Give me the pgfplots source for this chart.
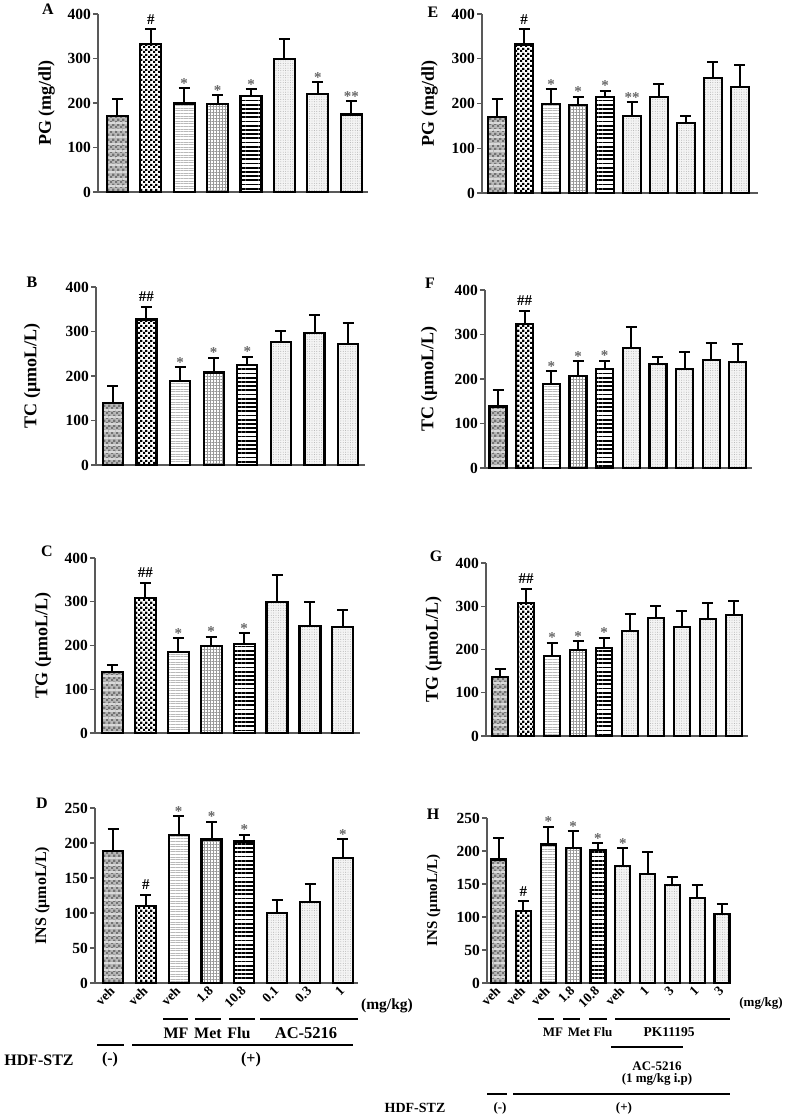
\documentclass[border=0pt]{standalone}
\usepackage{pgfplots}
\pgfplotsset{compat=1.18}
\usepackage{fontspec}
\setmainfont{Liberation Serif}
\usetikzlibrary{patterns,patterns.meta}
\pgfdeclarepatternformonly{finecheck}{\pgfpointorigin}{\pgfqpoint{4.6pt}{4.6pt}}{\pgfqpoint{4.6pt}{4.6pt}}{%
  \pgfpathrectangle{\pgfpointorigin}{\pgfqpoint{2.3pt}{2.3pt}}%
  \pgfpathrectangle{\pgfqpoint{2.3pt}{2.3pt}}{\pgfqpoint{2.3pt}{2.3pt}}%
  \pgfusepath{fill}}
\newcommand{\fs}[1]{\fontsize{#1}{#1}\selectfont\bfseries}
\tikzset{
 s1/.style={fill=gray!55, postaction={pattern=finecheck, pattern color=black!55},
   postaction={pattern={Lines[angle=0,distance=7pt,line width=1.4pt]}, pattern color=gray!30}},
 s2/.style={fill=white, postaction={pattern=finecheck, pattern color=black}},
 s3/.style={fill=white, postaction={pattern={Lines[angle=0,distance=2.6pt,line width=0.8pt]}, pattern color=gray!55}},
 s4/.style={fill=white, postaction={pattern={Hatch[angle=0,distance=3pt,line width=0.6pt]}, pattern color=gray!80}},
 s5/.style={fill=white, postaction={pattern={Lines[angle=0,distance=4.2pt,line width=1.8pt]}, pattern color=black}},
 s6/.style={fill=gray!9, postaction={pattern={Dots[distance=2.4pt,radius=0.45pt]}, pattern color=gray!70}},
}
\newcommand{\B}[4]{\addplot[ybar, bar shift=0pt, draw=black, line width=2.2pt, #4, forget plot,
  error bars/.cd, y dir=plus, y explicit, error bar style={line width=2pt,black},
  error mark options={rotate=90, mark size=5.5pt, line width=2pt, black}]
  coordinates {(#1,#2) +- (0,#3)};}
\newcommand{\Hash}[1]{\addplot[draw=none, mark=none, forget plot, point meta=explicit symbolic, nodes near coords,
  every node near coord/.append style={anchor=base, yshift=5pt, inner sep=0pt, font=\fs{15}, text=black}] coordinates {#1};}
\newcommand{\Star}[1]{\addplot[draw=none, mark=none, forget plot, point meta=explicit symbolic, nodes near coords,
  every node near coord/.append style={anchor=base, yshift=0pt, inner sep=0pt, font=\fs{15}, text=black!60}] coordinates {#1};}
\pgfplotsset{
 myax/.style={scale only axis, anchor=south west, axis x line*=bottom, axis y line*=left, clip=false,
   ymin=0, axis line style={line width=1.3pt, black!65}, ytick style={line width=1.3pt, black!65},
   tick align=outside, major tick length=5pt, xtick=\empty,
   /pgf/number format/assume math mode=true,
   yticklabel style={font=\fs{15.5}, inner sep=2pt},
   ylabel style={font=\fs{18}, anchor=center}},
 four/.style={ymax=400, ytick={0,100,200,300,400}},
 two/.style={ymax=250, ytick={0,50,100,150,200,250}},
}
\begin{document}
\begin{tikzpicture}
\useasboundingbox (0,0) rectangle (787pt,1117pt);
% ---------------- A
\begin{axis}[myax, four, at={(98pt,925pt)}, width=270pt, height=178pt, xmin=0.42, xmax=8.5, bar width=21pt,
  ylabel={PG (mg/dl)}, ylabel style={at={(axis description cs:-0.19,0.5)}}]
\B{1}{171}{39}{s1}\B{2}{332}{34}{s2}\B{3}{199}{34}{s3}\B{4}{197}{20}{s4}
\B{5}{216}{15}{s5}\B{6}{298}{46}{s6}\B{7}{220}{27}{s6}\B{8}{174}{30}{s6}
\Hash{(2,366) [\#]}
\Star{(3,233) [*] (4,217) [*] (5,231) [*] (7,247) [*] (8,204) [**]}
\end{axis}
% ---------------- B
\begin{axis}[myax, four, at={(96pt,652pt)}, width=269pt, height=178pt, xmin=0.5, xmax=8.5, bar width=20pt,
  ylabel={TC (μmoL/L)}, ylabel style={at={(axis description cs:-0.238,0.5)}}]
\B{1}{140}{38}{s1}\B{2}{327}{29}{s2}\B{3}{189}{31}{s3}\B{4}{208}{33}{s4}
\B{5}{225}{18}{s5}\B{6}{276}{25}{s6}\B{7}{296}{40}{s6}\B{8}{272}{46}{s6}
\Hash{(2,356) [\#\#]}
\Star{(3,220) [*] (4,241) [*] (5,243) [*]}
\end{axis}
% ---------------- C
\begin{axis}[myax, four, at={(95pt,384pt)}, width=265pt, height=175pt, xmin=0.47, xmax=8.52, bar width=21pt,
  ylabel={TG (μmoL/L)}, ylabel style={at={(axis description cs:-0.196,0.5)}}]
\B{1}{139}{16}{s1}\B{2}{309}{34}{s2}\B{3}{185}{31}{s3}\B{4}{199}{21}{s4}
\B{5}{204}{24}{s5}\B{6}{299}{61}{s6}\B{7}{245}{55}{s6}\B{8}{243}{38}{s6}
\Hash{(2,343) [\#\#]}
\Star{(3,216) [*] (4,220) [*] (5,228) [*]}
\end{axis}
% ---------------- D
\begin{axis}[myax, two, at={(95pt,134pt)}, width=263pt, height=175pt, xmin=0.45, xmax=8.46, bar width=20pt,
  ylabel={INS (μmoL/L)}, ylabel style={at={(axis description cs:-0.2,0.5)}, font=\fs{16}},
  xtick={1,...,8}, xticklabels={veh,veh,veh,1.8,10.8,0.1,0.3,1}, xtick style={draw=none},
  xticklabel style={rotate=45, anchor=east, font=\fs{13.5}, inner sep=1pt}]
\B{1}{189}{31}{s1}\B{2}{110}{16}{s2}\B{3}{211}{27}{s3}\B{4}{205}{25}{s4}
\B{5}{202}{10}{s5}\B{6}{100}{18}{s6}\B{7}{116}{26}{s6}\B{8}{179}{26}{s6}
\Hash{(2,126) [\#]}
\Star{(3,238) [*] (4,230) [*] (5,212) [*] (8,205) [*]}
\end{axis}
% ---------------- E
\begin{axis}[myax, four, at={(482pt,924pt)}, width=276pt, height=179pt, xmin=0.44, xmax=10.67, bar width=18pt,
  ylabel={PG (mg/dl)}, ylabel style={at={(axis description cs:-0.19,0.5)}}]
\B{1}{169}{40}{s1}\B{2}{332}{34}{s2}\B{3}{198}{34}{s3}\B{4}{196}{19}{s4}\B{5}{214}{15}{s5}
\B{6}{172}{31}{s6}\B{7}{215}{29}{s6}\B{8}{156}{15}{s6}\B{9}{257}{35}{s6}\B{10}{237}{48}{s6}
\Hash{(2,366) [\#]}
\Star{(3,232) [*] (4,215) [*] (5,229) [*] (6,203) [**]}
\end{axis}
% ---------------- F
\begin{axis}[myax, four, at={(485pt,649pt)}, width=267pt, height=178pt, xmin=0.51, xmax=10.53, bar width=17pt,
  ylabel={TC (μmoL/L)}, ylabel style={at={(axis description cs:-0.21,0.5)}}]
\B{1}{138}{37}{s1}\B{2}{324}{29}{s2}\B{3}{188}{29}{s3}\B{4}{207}{33}{s4}\B{5}{223}{18}{s5}
\B{6}{270}{47}{s6}\B{7}{233}{17}{s6}\B{8}{222}{39}{s6}\B{9}{243}{38}{s6}\B{10}{239}{39}{s6}
\Hash{(2,353) [\#\#]}
\Star{(3,217) [*] (4,240) [*] (5,241) [*]}
\end{axis}
% ---------------- G
\begin{axis}[myax, four, at={(486pt,381pt)}, width=262pt, height=173pt, xmin=0.46, xmax=10.54, bar width=16pt,
  ylabel={TG (μmoL/L)}, ylabel style={at={(axis description cs:-0.2,0.5)}}]
\B{1}{136}{18}{s1}\B{2}{307}{34}{s2}\B{3}{185}{31}{s3}\B{4}{198}{21}{s4}\B{5}{203}{24}{s5}
\B{6}{242}{40}{s6}\B{7}{272}{29}{s6}\B{8}{252}{36}{s6}\B{9}{270}{37}{s6}\B{10}{279}{33}{s6}
\Hash{(2,341) [\#\#]}
\Star{(3,216) [*] (4,219) [*] (5,227) [*]}
\end{axis}
% ---------------- H
\begin{axis}[myax, two, at={(487pt,134pt)}, width=243pt, height=165pt, xmin=0.53, xmax=10.32, bar width=15pt,
  ylabel={INS (μmoL/L)}, ylabel style={at={(axis description cs:-0.22,0.5)}, font=\fs{15}},
  xtick={1,...,10}, xticklabels={veh,veh,veh,1.8,10.8,veh,1,3,1,3}, xtick style={draw=none},
  xticklabel style={rotate=45, anchor=east, font=\fs{13.5}, inner sep=1pt}]
\B{1}{187}{32}{s1}\B{2}{109}{15}{s2}\B{3}{210}{27}{s3}\B{4}{205}{25}{s4}\B{5}{201}{11}{s5}
\B{6}{177}{27}{s6}\B{7}{165}{34}{s6}\B{8}{148}{13}{s6}\B{9}{129}{19}{s6}\B{10}{105}{15}{s6}
\Hash{(2,124) [\#]}
\Star{(3,237) [*] (4,230) [*] (5,212) [*] (6,204) [*]}
\end{axis}
% ---------------- panel letters
\foreach \t/\x/\y in {A/48/1108, B/32/835, C/47/566, D/42/314, E/433/1105, F/430/834, G/436/561, H/433/303}
  \node[font=\fs{16}] at (\x pt,\y pt) {\t};
% ---------------- D group labels
\begin{scope}[line width=1.2pt]
\node[font=\fs{15.5}] at (387pt,111pt) {(mg/kg)};
\draw (163pt,98pt) -- (188pt,98pt); \draw (195pt,98pt) -- (221pt,98pt);
\draw (229pt,98pt) -- (255pt,98pt); \draw (260pt,98pt) -- (358pt,98pt);
\node[font=\fs{16}] at (176pt,84pt) {MF};
\node[font=\fs{16}] at (208pt,84pt) {Met};
\node[font=\fs{16}] at (239pt,84pt) {Flu};
\node[font=\fs{16.5}] at (306pt,84pt) {AC-5216};
\draw (97pt,72pt) -- (124pt,72pt); \draw (132pt,72pt) -- (353pt,72pt);
\node[font=\fs{16}] at (39pt,57pt) {HDF-STZ};
\node[font=\fs{16}] at (110pt,57pt) {(-)};
\node[font=\fs{16}] at (251pt,57pt) {(+)};
% ---------------- H group labels
\node[font=\fs{13}] at (761pt,114pt) {(mg/kg)};
\draw (538pt,98pt) -- (554pt,98pt); \draw (563pt,98pt) -- (580pt,98pt);
\draw (589pt,98pt) -- (607pt,98pt); \draw (615pt,98pt) -- (730pt,98pt);
\node[font=\fs{13}] at (553pt,85pt) {MF};
\node[font=\fs{13}] at (579pt,85pt) {Met};
\node[font=\fs{13}] at (603pt,85pt) {Flu};
\node[font=\fs{13.5}] at (669pt,85pt) {PK11195};
\draw (611pt,70pt) -- (683pt,70pt);
\node[font=\fs{13}] at (657pt,51pt) {AC-5216};
\node[font=\fs{13}] at (657pt,38pt) {(1 mg/kg i.p)};
\draw (487pt,23pt) -- (507pt,23pt); \draw (513pt,23pt) -- (730pt,23pt);
\node[font=\fs{14}] at (415pt,9pt) {HDF-STZ};
\node[font=\fs{13}] at (500pt,9pt) {(-)};
\node[font=\fs{13}] at (624pt,9pt) {(+)};
\end{scope}
\end{tikzpicture}
\end{document}
